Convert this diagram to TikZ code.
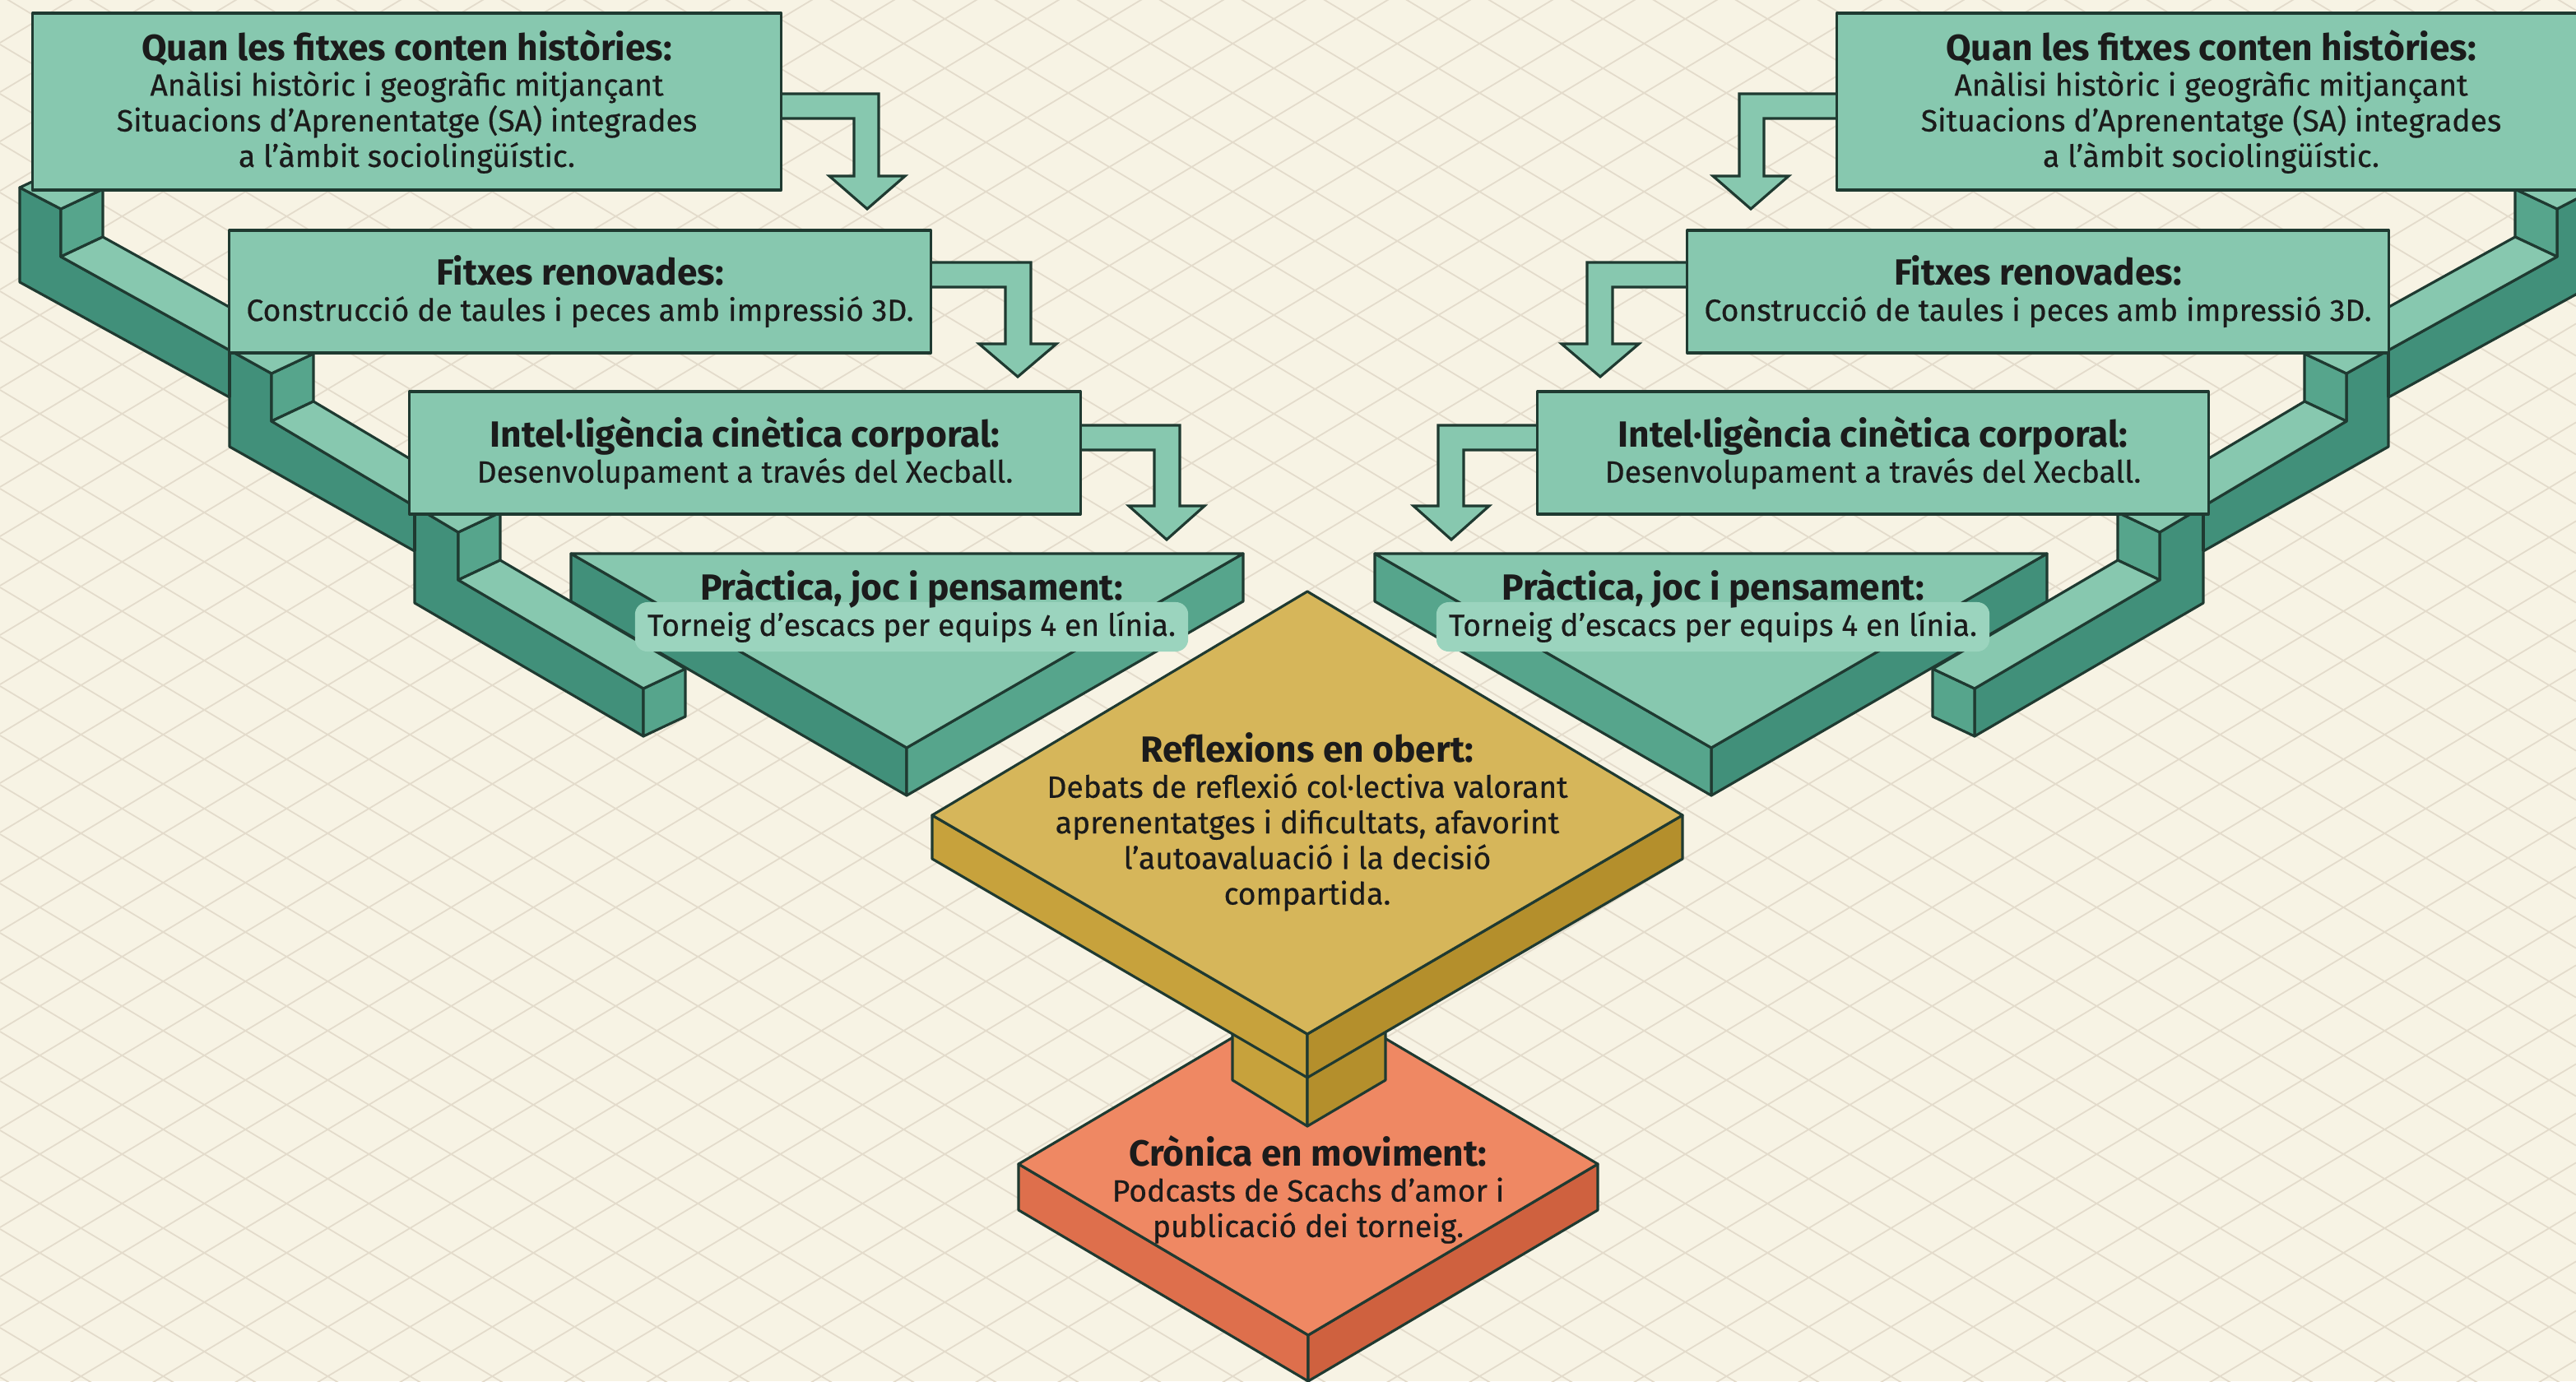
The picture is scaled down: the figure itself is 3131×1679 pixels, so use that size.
\documentclass[tikz,border=0pt]{standalone}
\usepackage{fontspec}
\setmainfont{Fira Sans}
\newfontfamily\bodyface{Fira Sans}[Ligatures=TeX, FakeBold=0.5]
\definecolor{paper}{HTML}{F7F3E4}
\definecolor{gridc}{HTML}{E3DBCB}
\definecolor{edge}{HTML}{1F3A31}
\definecolor{tealtop}{HTML}{87C8AF}
\definecolor{tealsoft}{HTML}{9BD4BE}
\definecolor{tealmid}{HTML}{56A58C}
\definecolor{tealdark}{HTML}{41907A}
\definecolor{goldtop}{HTML}{D6B65A}
\definecolor{goldleft}{HTML}{C7A23C}
\definecolor{goldright}{HTML}{B48F2C}
\definecolor{redtop}{HTML}{EF8863}
\definecolor{redleft}{HTML}{DE6F4C}
\definecolor{redright}{HTML}{CF613F}
\definecolor{ink}{HTML}{1B1B1B}
\newcommand{\cardtitle}[1]{{\fontsize{12.6}{12.3}\selectfont\rmfamily\bfseries #1}}

\begin{document}
\begin{tikzpicture}[x=0.01cm, y=-0.01cm,
  isoline/.style={draw=gridc, line width=0.5pt},
  face/.style={draw=edge, line width=0.9pt, line join=round},
  flow/.style={face, fill=tealtop, line join=miter},
  card/.style={face, fill=tealtop, align=center, text=ink, inner sep=0pt, font=\bodyface\fontsize{10.6}{12.3}\selectfont},
  note/.style={align=center, text=ink, inner sep=0pt, font=\bodyface\fontsize{10.6}{12.3}\selectfont},
  tag/.style={note, fill=tealsoft, rounded corners=0.15cm, minimum width=6.72cm, minimum height=0.6cm}]
	\useasboundingbox (0,0) rectangle (3131,1679);
	\fill[paper] (0,0) rectangle (3131,1679);
	\begin{scope}
	\clip (0,0) rectangle (3131,1679);
	\foreach \k in {-32,...,27} \draw[isoline] (0,{54+60*\k}) -- (3131,{1932.6+60*\k});
	\foreach \k in {0,...,59} \draw[isoline] (0,{52+60*\k}) -- (3131,{-1826.6+60*\k});
	\end{scope}

	% left half
	\draw[face, fill=tealdark] (694,673) -- (1102,909) -- (1102,967) -- (694,731) -- cycle;
	\draw[face, fill=tealmid] (1511,673) -- (1102,909) -- (1102,967) -- (1511,731) -- cycle;
	\draw[face, fill=tealtop] (694,673) -- (1511,673) -- (1102,909) -- cycle;
	\draw[face, fill=tealdark] (24,228) -- (74,254) -- (74,312) -- (330,454) -- (330,512) -- (557,647) -- (557,705) -- (782,837) -- (782,895) -- (504,733) -- (504,670) -- (279,543) -- (279,483) -- (24,343) -- cycle;
	\draw[face] (279,426) -- (279,483);
	\draw[face] (504,616) -- (504,670);
	\draw[face, fill=tealmid] (74,254) -- (125,230) -- (125,288) -- (74,312) -- cycle;
	\draw[face, fill=tealmid] (330,454) -- (381,430) -- (381,488) -- (330,512) -- cycle;
	\draw[face, fill=tealmid] (557,647) -- (608,623) -- (608,681) -- (557,705) -- cycle;
	\draw[face, fill=tealmid] (782,837) -- (833,813) -- (833,871) -- (782,895) -- cycle;
	\draw[face, fill=tealtop] (24,228) -- (74,254) -- (125,230) -- (75,204) -- cycle;
	\draw[face, fill=tealtop] (74,312) -- (125,288) -- (381,430) -- (330,454) -- cycle;
	\draw[face, fill=tealtop] (330,512) -- (381,488) -- (608,623) -- (557,647) -- cycle;
	\draw[face, fill=tealtop] (557,705) -- (608,681) -- (833,813) -- (782,837) -- cycle;
	\draw[flow] (930,114) -- (1068,114) -- (1068,214) -- (1100,214) -- (1054,254) -- (1008,214) -- (1038,214) -- (1038,144) -- (930,144) -- cycle;
	\draw[flow] (1110,319) -- (1253,319) -- (1253,418) -- (1284,418) -- (1237,458) -- (1190,418) -- (1222,418) -- (1222,349) -- (1110,349) -- cycle;
	\draw[flow] (1290,517) -- (1434,517) -- (1434,615) -- (1464,615) -- (1418,656) -- (1372,615) -- (1403,615) -- (1403,547) -- (1290,547) -- cycle;
	\node[card, minimum width=9.09cm, minimum height=2.15cm] (quanL) at (494.5,123.5) {\cardtitle{Quan les fitxes conten històries:}\\ Anàlisi històric i geogràfic mitjançant\\ Situacions d'Aprenentatge (SA) integrades\\ a l'àmbit sociolingüístic.};
	\node[card, minimum width=8.52cm, minimum height=1.49cm] (fitxesL) at (705,354.5) {\cardtitle{Fitxes renovades:}\\ Construcció de taules i peces amb impressió 3D.};
	\node[card, minimum width=8.15cm, minimum height=1.49cm] (intelL) at (905.5,550.5) {\cardtitle{Intel·ligència cinètica corporal:}\\ Desenvolupament a través del Xecball.};
	\node[tag] (torneigL) at (1108,762) {Torneig d'escacs per equips 4 en línia.};
	\node[note] (practicaL) at (1108,716) {\cardtitle{Pràctica, joc i pensament:}};

	% right half, mirrored
	\begin{scope}[shift={(3182,0)}, xscale=-1]
	\draw[face, fill=tealdark] (694,673) -- (1102,909) -- (1102,967) -- (694,731) -- cycle;
	\draw[face, fill=tealmid] (1511,673) -- (1102,909) -- (1102,967) -- (1511,731) -- cycle;
	\draw[face, fill=tealtop] (694,673) -- (1511,673) -- (1102,909) -- cycle;
	\draw[face, fill=tealdark] (24,228) -- (74,254) -- (74,312) -- (330,454) -- (330,512) -- (557,647) -- (557,705) -- (782,837) -- (782,895) -- (504,733) -- (504,670) -- (279,543) -- (279,483) -- (24,343) -- cycle;
	\draw[face] (279,426) -- (279,483);
	\draw[face] (504,616) -- (504,670);
	\draw[face, fill=tealmid] (74,254) -- (125,230) -- (125,288) -- (74,312) -- cycle;
	\draw[face, fill=tealmid] (330,454) -- (381,430) -- (381,488) -- (330,512) -- cycle;
	\draw[face, fill=tealmid] (557,647) -- (608,623) -- (608,681) -- (557,705) -- cycle;
	\draw[face, fill=tealmid] (782,837) -- (833,813) -- (833,871) -- (782,895) -- cycle;
	\draw[face, fill=tealtop] (24,228) -- (74,254) -- (125,230) -- (75,204) -- cycle;
	\draw[face, fill=tealtop] (74,312) -- (125,288) -- (381,430) -- (330,454) -- cycle;
	\draw[face, fill=tealtop] (330,512) -- (381,488) -- (608,623) -- (557,647) -- cycle;
	\draw[face, fill=tealtop] (557,705) -- (608,681) -- (833,813) -- (782,837) -- cycle;
	\draw[flow] (930,114) -- (1068,114) -- (1068,214) -- (1100,214) -- (1054,254) -- (1008,214) -- (1038,214) -- (1038,144) -- (930,144) -- cycle;
	\draw[flow] (1110,319) -- (1253,319) -- (1253,418) -- (1284,418) -- (1237,458) -- (1190,418) -- (1222,418) -- (1222,349) -- (1110,349) -- cycle;
	\draw[flow] (1290,517) -- (1434,517) -- (1434,615) -- (1464,615) -- (1418,656) -- (1372,615) -- (1403,615) -- (1403,547) -- (1290,547) -- cycle;
	\node[card, minimum width=9.09cm, minimum height=2.15cm] (quanR) at (494.5,123.5) {\cardtitle{Quan les fitxes conten històries:}\\ Anàlisi històric i geogràfic mitjançant\\ Situacions d'Aprenentatge (SA) integrades\\ a l'àmbit sociolingüístic.};
	\node[card, minimum width=8.52cm, minimum height=1.49cm] (fitxesR) at (705,354.5) {\cardtitle{Fitxes renovades:}\\ Construcció de taules i peces amb impressió 3D.};
	\node[card, minimum width=8.15cm, minimum height=1.49cm] (intelR) at (905.5,550.5) {\cardtitle{Intel·ligència cinètica corporal:}\\ Desenvolupament a través del Xecball.};
	\node[tag] (torneigR) at (1100,762) {Torneig d'escacs per equips 4 en línia.};
	\node[note] (practicaR) at (1100,716) {\cardtitle{Pràctica, joc i pensament:}};
	\end{scope}

	% centre
	\draw[face, fill=redleft] (1238,1415) -- (1590,1623) -- (1590,1679) -- (1238,1471) -- cycle;
	\draw[face, fill=redright] (1590,1623) -- (1942,1415) -- (1942,1471) -- (1590,1679) -- cycle;
	\draw[face, fill=redtop] (1590,1207) -- (1238,1415) -- (1590,1623) -- (1942,1415) -- cycle;
	\draw[face, fill=goldleft] (1498,1230) -- (1589,1283) -- (1589,1369) -- (1498,1313) -- cycle;
	\draw[face, fill=goldright] (1589,1283) -- (1684,1228) -- (1684,1313) -- (1589,1369) -- cycle;
	\draw[face, fill=goldleft] (1133,991) -- (1589,1257) -- (1589,1310) -- (1133,1044) -- cycle;
	\draw[face, fill=goldright] (1589,1257) -- (2045,991) -- (2045,1044) -- (1589,1310) -- cycle;
	\draw[face, fill=goldtop] (1589,719) -- (1133,991) -- (1589,1257) -- (2045,991) -- cycle;
	\node[note] (reflexions) at (1589,999) {\cardtitle{Reflexions en obert:}\\ Debats de reflexió col·lectiva valorant\\ aprenentatges i dificultats, afavorint\\ l'autoavaluació i la decisió\\ compartida.};
	\node[note] (cronica) at (1590,1446) {\cardtitle{Crònica en moviment:}\\ Podcasts de Scachs d'amor i\\ publicació dei torneig.};
\end{tikzpicture}
\end{document}
